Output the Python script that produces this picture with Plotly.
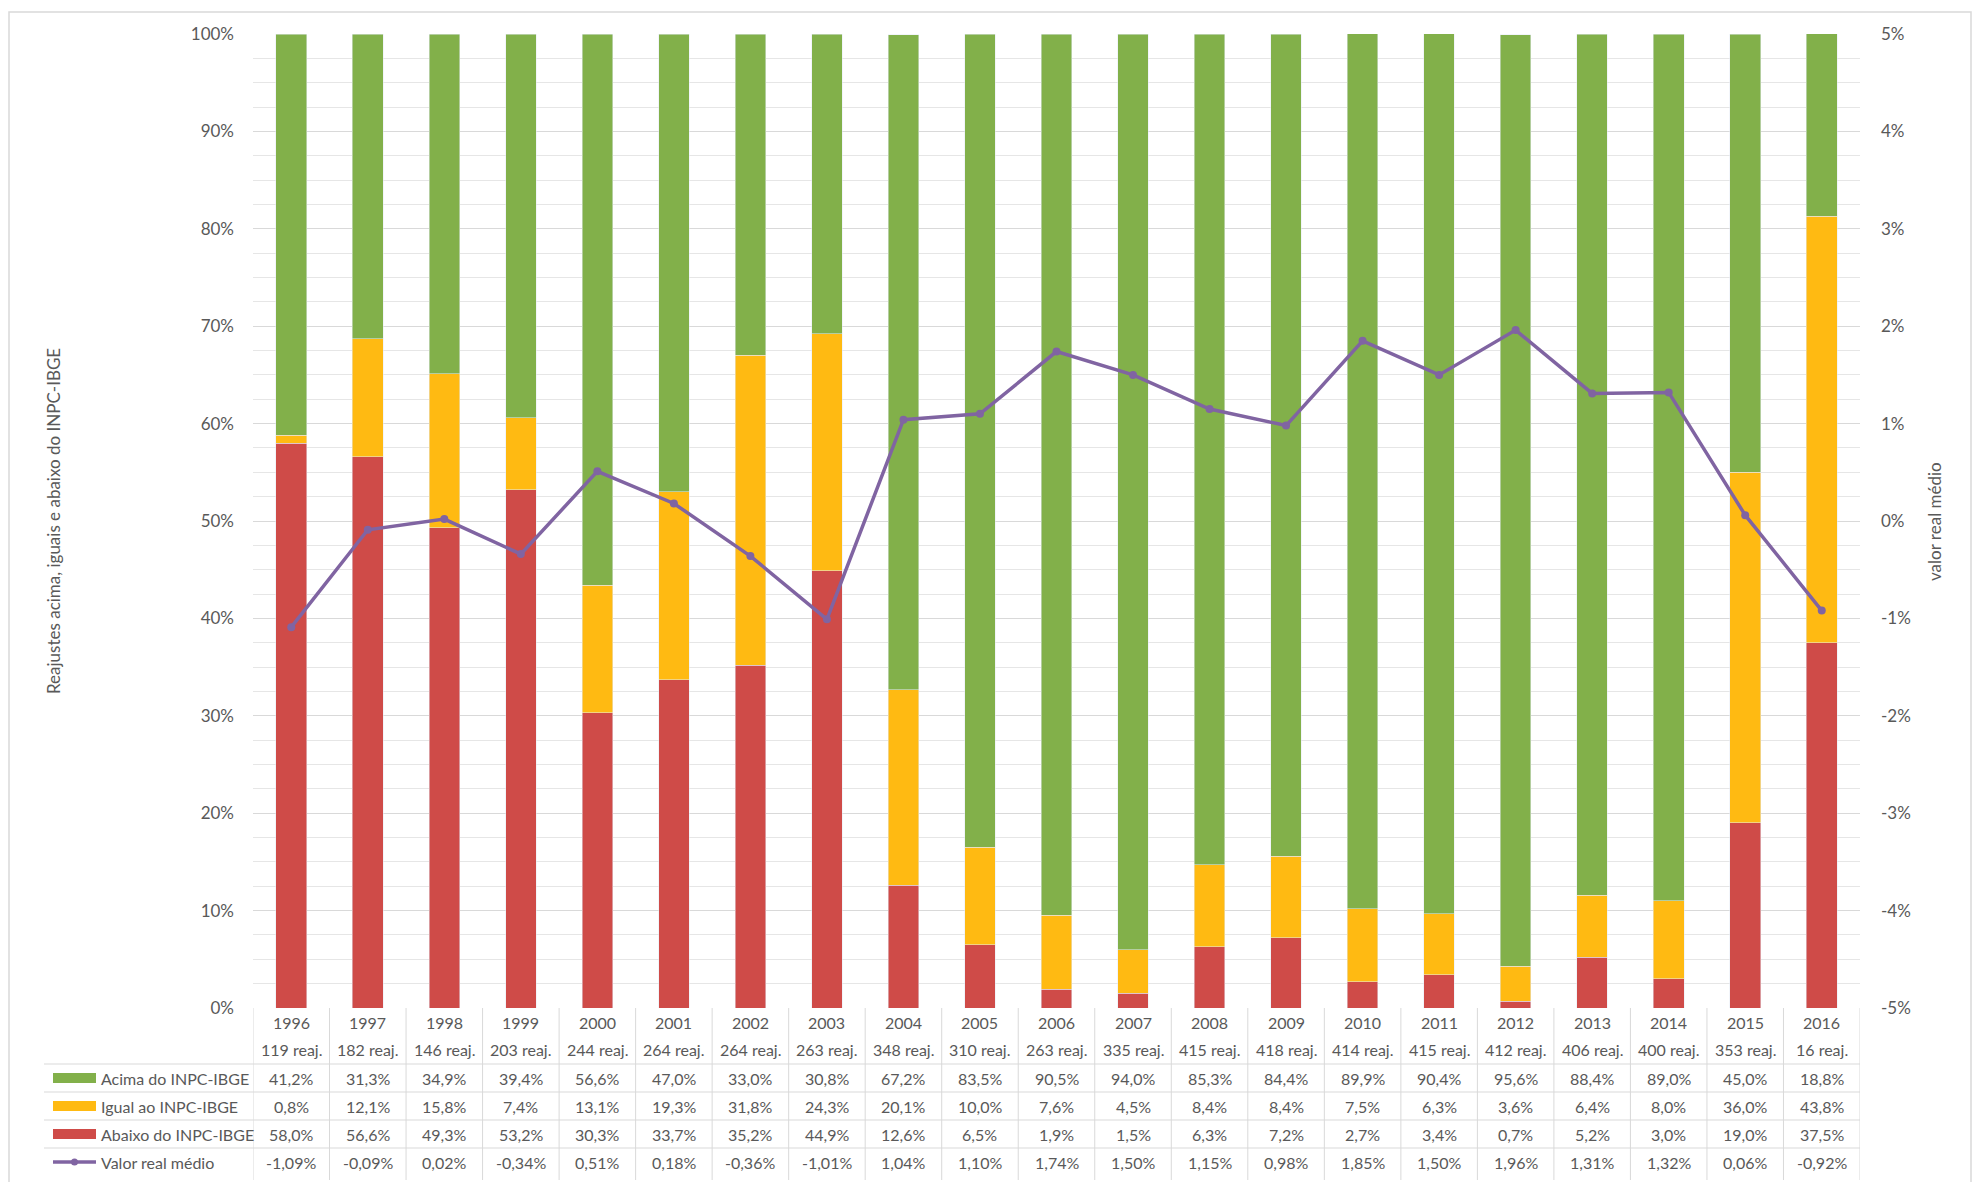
import plotly.graph_objects as go

years = ["1996","1997","1998","1999","2000","2001","2002","2003","2004","2005","2006",
         "2007","2008","2009","2010","2011","2012","2013","2014","2015","2016"]
n_reaj = [119,182,146,203,244,264,264,263,348,310,263,335,415,418,414,415,412,406,400,353,16]
acima = [41.2,31.3,34.9,39.4,56.6,47.0,33.0,30.8,67.2,83.5,90.5,94.0,85.3,84.4,89.9,90.4,95.6,88.4,89.0,45.0,18.8]
igual = [0.8,12.1,15.8,7.4,13.1,19.3,31.8,24.3,20.1,10.0,7.6,4.5,8.4,8.4,7.5,6.3,3.6,6.4,8.0,36.0,43.8]
abaixo = [58.0,56.6,49.3,53.2,30.3,33.7,35.2,44.9,12.6,6.5,1.9,1.5,6.3,7.2,2.7,3.4,0.7,5.2,3.0,19.0,37.5]
valor = [-1.09,-0.09,0.02,-0.34,0.51,0.18,-0.36,-1.01,1.04,1.10,1.74,1.50,1.15,0.98,1.85,1.50,1.96,1.31,1.32,0.06,-0.92]

series_names = ["Acima do INPC-IBGE", "Igual ao INPC-IBGE", "Abaixo do INPC-IBGE", "Valor real médio"]
left_ticks = [0, 10, 20, 30, 40, 50, 60, 70, 80, 90, 100]
left_labels = ["0%", "10%", "20%", "30%", "40%", "50%", "60%", "70%", "80%", "90%", "100%"]
right_ticks = [-5, -4, -3, -2, -1, 0, 1, 2, 3, 4, 5]
right_labels = ["-5%", "-4%", "-3%", "-2%", "-1%", "0%", "1%", "2%", "3%", "4%", "5%"]

GREEN = "#82B04A"
GOLD = "#FFBA12"
RED = "#CF4B48"
PURPLE = "#8064A2"
TXT = "#595959"
GRID = "#D9D9D9"
FONT = "Lato"
FS = 16

OFF = 8  # page body margin
W, H = 1982 - OFF, 1182 - OFF
# plot area in page pixels
PL, PR, PT, PB = 253, 1860, 34, 1008
L, R, T, B = PL - OFF, PR - OFF, PT - OFF, PB - OFF

def px(xp):
    return (xp - PL) / (PR - PL)

def py(yp):
    return (PB - yp) / (PB - PT)

x = list(range(len(years)))

fig = go.Figure()
fig.add_trace(go.Bar(x=x, y=abaixo, name=series_names[2], marker_color=RED, width=0.4))
fig.add_trace(go.Bar(x=x, y=igual, name=series_names[1], marker_color=GOLD, width=0.4))
fig.add_trace(go.Bar(x=x, y=acima, name=series_names[0], marker_color=GREEN, width=0.4))
fig.add_trace(go.Scatter(x=x, y=valor, yaxis="y2", name=series_names[3], mode="lines+markers",
                         line=dict(color=PURPLE, width=3.5), marker=dict(size=8, color=PURPLE)))

ann = []
shapes = []

def fmt(v, d):
    return (f"{v:.{d}f}").replace(".", ",") + "%"

def cell(i, yrow, text):
    return dict(x=i, y=py(yrow), xref="x", yref="paper", text=text, showarrow=False,
                xanchor="center", yanchor="middle", font=dict(family=FONT, size=FS, color=TXT))

row_y = [1022, 1049, 1078, 1106, 1134, 1162]
for i in x:
    ann.append(cell(i, row_y[0], years[i]))
    ann.append(cell(i, row_y[1], f"{n_reaj[i]} reaj."))
    for r, (vals, d) in enumerate([(acima, 1), (igual, 1), (abaixo, 1), (valor, 2)]):
        ann.append(cell(i, row_y[2 + r], fmt(vals[i], d)))

# legend keys in table
colors = [GREEN, GOLD, RED]
for r in range(3):
    yc = row_y[2 + r]
    shapes.append(dict(type="rect", xref="paper", yref="paper", x0=px(53), x1=px(96),
                       y0=py(yc + 5), y1=py(yc - 5), fillcolor=colors[r], line=dict(width=0)))
    ann.append(dict(x=px(99), y=py(yc), xref="paper", yref="paper", text=series_names[r],
                    xanchor="left", yanchor="middle", showarrow=False,
                    font=dict(family=FONT, size=FS, color=TXT)))
yc = row_y[5]
shapes.append(dict(type="line", xref="paper", yref="paper", x0=px(53), x1=px(96),
                   y0=py(yc), y1=py(yc), line=dict(color=PURPLE, width=3.5)))
shapes.append(dict(type="circle", xref="paper", yref="paper", x0=px(71), x1=px(78),
                   y0=py(yc + 3.5), y1=py(yc - 3.5), fillcolor=PURPLE, line=dict(width=0)))
ann.append(dict(x=px(99), y=py(yc), xref="paper", yref="paper", text=series_names[3],
                xanchor="left", yanchor="middle", showarrow=False,
                font=dict(family=FONT, size=FS, color=TXT)))

# table lines
for yl in [1064, 1092, 1120, 1148]:
    shapes.append(dict(type="line", xref="paper", yref="paper", x0=px(44), x1=1,
                       y0=py(yl), y1=py(yl), line=dict(color=GRID, width=1)))
for i in range(len(years) + 1):
    shapes.append(dict(type="line", xref="x", yref="paper", x0=i - 0.5, x1=i - 0.5,
                       y0=0, y1=py(1180), line=dict(color=GRID, width=1)))

# outer border
shapes.append(dict(type="rect", xref="paper", yref="paper", x0=px(9), x1=px(1971),
                   y0=py(1195), y1=py(12), line=dict(color=GRID, width=1.5), layer="below"))

# axis titles
ann.append(dict(x=px(53), y=py(521), xref="paper", yref="paper", textangle=-90,
                xanchor="center", yanchor="middle",
                text="Reajustes acima, iguais e abaixo do INPC-IBGE", showarrow=False,
                font=dict(family=FONT, size=17, color=TXT)))
ann.append(dict(x=px(1934), y=py(521), xref="paper", yref="paper", textangle=-90,
                xanchor="center", yanchor="middle",
                text="valor real médio", showarrow=False,
                font=dict(family=FONT, size=17, color=TXT)))

fig.update_layout(
    width=W, height=H, barmode="stack", showlegend=False,
    margin=dict(l=L, r=W - R, t=T, b=H - B, autoexpand=False),
    paper_bgcolor="white", plot_bgcolor="white",
    font=dict(family=FONT, size=FS, color=TXT),
    xaxis=dict(range=[-0.5, len(years) - 0.5], showticklabels=False, showgrid=False,
               zeroline=False, showline=False, fixedrange=True),
    yaxis=dict(range=[0, 100], tickvals=left_ticks, ticktext=left_labels, showgrid=True,
               gridcolor=GRID, gridwidth=1, zeroline=False, showline=False,
               ticklabelstandoff=18, tickfont=dict(family=FONT, size=17, color=TXT),
               minor=dict(dtick=2.5, showgrid=True, gridcolor="#E6E6E6", gridwidth=1)),
    yaxis2=dict(range=[-5, 5], tickvals=right_ticks, ticktext=right_labels, overlaying="y",
                side="right", showgrid=False, zeroline=False, showline=False,
                ticklabelstandoff=20, tickfont=dict(family=FONT, size=17, color=TXT)),
    annotations=ann, shapes=shapes,
)

fig.write_html("out.html")
